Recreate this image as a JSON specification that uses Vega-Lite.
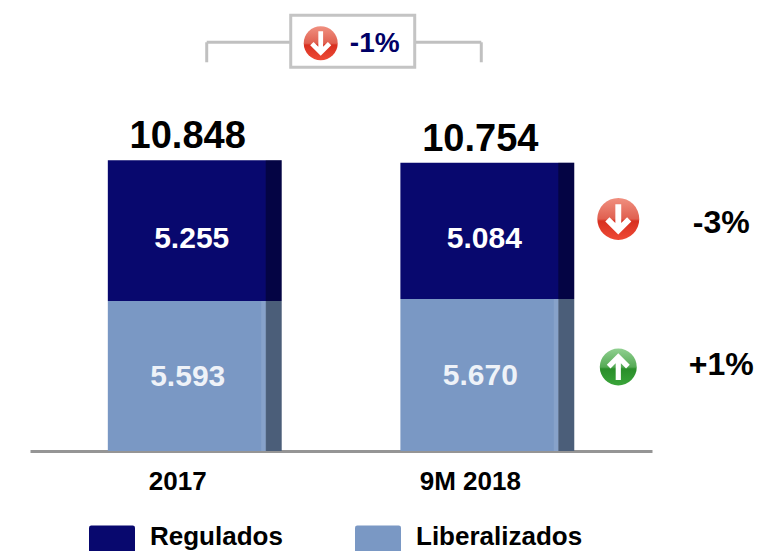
{
"$schema":"https://vega.github.io/schema/vega-lite/v6.json",
"autosize":{"type":"none"},
"padding":{"left":30,"top":0,"right":105,"bottom":101},
"width":622,"height":451,
"background":"white",
"config":{"view":{"stroke":null},"font":"Liberation Sans","text":{"font":"Liberation Sans","fontWeight":"bold"}},
"datasets":{
"main":[
{"period":"2017","series":"Regulados","value":5255},
{"period":"2017","series":"Liberalizados","value":5593},
{"period":"9M 2018","series":"Regulados","value":5084,"change":"-3%"},
{"period":"9M 2018","series":"Liberalizados","value":5670,"change":"+1%"}],
"top":[{"period":"2017","end":"9M 2018","total":10848,"change":"-1%"}]
},
"data":{"name":"main"},
"transform":[
{"stack":"value","groupby":["period"],"sort":[{"field":"series","order":"ascending"}],"as":["s0","s1"]},
{"calculate":"(datum.s0+datum.s1)/2","as":"mid"},
{"calculate":"replace(format(datum.value,','),',','.')","as":"label"}
],
"encoding":{
"x":{"field":"period","type":"nominal","title":null,
"scale":{"domain":["2017","9M 2018"],"paddingInner":0.406,"paddingOuter":0.266},
"axis":{"labelAngle":0,"ticks":false,"domainColor":"#959595","domainWidth":3,"labelFont":"Liberation Sans","labelFontWeight":"bold","labelFontSize":26,"labelColor":"#000000","labelPadding":17,"labelOffset":-17}}
},
"layer":[
{"mark":{"type":"bar"},
"encoding":{"y":{"field":"s0","type":"quantitative","title":null,"axis":null,"scale":{"domain":[0,16828],"nice":false,"zero":false}},
"y2":{"field":"s1"},
"color":{"field":"series","type":"nominal","scale":{"domain":["Regulados","Liberalizados"],"range":["#08086e","#7a98c4"]},
"legend":{"orient":"none","legendX":59,"legendY":523,"direction":"horizontal","columns":2,"title":null,"padding":0,"labelFont":"Liberation Sans","labelFontSize":26,"labelFontWeight":"bold","labelColor":"#000000","labelLimit":300,"symbolType":"M-0.9,-0.5H0.9Q1,-0.5 1,-0.4V0.7Q1,0.8 0.9,0.8H-0.9Q-1,0.8 -1,0.7V-0.4Q-1,-0.5 -0.9,-0.5Z","symbolSize":2116,"symbolStrokeWidth":0,"symbolOpacity":1,"labelOffset":15,"columnPadding":72,"clipHeight":28}}}},
{"mark":{"type":"bar","size":16,"xOffset":79,"fill":"#000000","fillOpacity":0.38},
"encoding":{"y":{"field":"s0","type":"quantitative"},"y2":{"field":"s1"}}},
{"transform":[{"filter":"datum.series==='Liberalizados'"}],
"mark":{"type":"bar","size":5,"xOffset":69,"fill":"#ffffff","fillOpacity":0.1},
"encoding":{"y":{"field":"s0","type":"quantitative"},"y2":{"field":"s1"}}},
{"transform":[{"filter":"datum.series==='Regulados'"}],
"mark":{"type":"text","fontSize":30,"fill":"#ffffff","dx":-3,"dy":8,"baseline":"middle"},
"encoding":{"y":{"field":"mid","type":"quantitative"},"text":{"field":"label"}}},
{"transform":[{"filter":"datum.series==='Liberalizados'"}],
"mark":{"type":"text","fontSize":30,"fill":"#eef2f8","dx":-7,"dy":1,"baseline":"middle"},
"encoding":{"y":{"field":"mid","type":"quantitative"},"text":{"field":"label"}}},
{"transform":[{"filter":"datum.series==='Regulados'"},{"calculate":"replace(format(datum.s1,','),',','.')","as":"totalLabel"}],
"mark":{"type":"text","fontSize":38,"fill":"#000000","dx":-7,"dy":-23,"baseline":"middle"},
"encoding":{"y":{"field":"s1","type":"quantitative"},"text":{"field":"totalLabel"}}},
{"transform":[{"filter":"datum.change==='-3%'"}],
"mark":{"type":"point","shape":"circle","filled":true,"opacity":1,"size":1764,"xOffset":131,"yOffset":-12,"fill":{"gradient":"linear","x1":0,"y1":0,"x2":0,"y2":1,"stops":[{"offset":0,"color":"#f09080"},{"offset":0.5,"color":"#e06050"},{"offset":0.55,"color":"#d83020"},{"offset":1,"color":"#ee4a36"}]}},
"encoding":{"y":{"field":"mid","type":"quantitative"}}},
{"transform":[{"filter":"datum.change==='-3%'"}],
"mark":{"type":"point","shape":"M-0.14,-0.7H0.14V0.2L0.42,-0.08L0.62,0.12L0,0.74L-0.62,0.12L-0.42,-0.08L-0.14,0.2Z","filled":true,"opacity":1,"size":1764,"xOffset":131,"yOffset":-12,"fill":"#ffffff"},
"encoding":{"y":{"field":"mid","type":"quantitative"}}},
{"transform":[{"filter":"datum.change==='+1%'"}],
"mark":{"type":"point","shape":"circle","filled":true,"opacity":1,"size":1369,"xOffset":131,"yOffset":-8,"fill":{"gradient":"linear","x1":0,"y1":0,"x2":0,"y2":1,"stops":[{"offset":0,"color":"#90d090"},{"offset":0.5,"color":"#55aa55"},{"offset":0.55,"color":"#2a8e2a"},{"offset":1,"color":"#3aa53a"}]}},
"encoding":{"y":{"field":"mid","type":"quantitative"}}},
{"transform":[{"filter":"datum.change==='+1%'"}],
"mark":{"type":"point","shape":"M-0.14,0.7H0.14V-0.2L0.42,0.08L0.62,-0.12L0,-0.74L-0.62,-0.12L-0.42,0.08L-0.14,-0.2Z","filled":true,"opacity":1,"size":1369,"xOffset":131,"yOffset":-8,"fill":"#ffffff"},
"encoding":{"y":{"field":"mid","type":"quantitative"}}},
{"transform":[{"filter":"datum.change==='-3%'"}],
"mark":{"type":"text","fontSize":32,"fill":"#000000","dx":234,"dy":-8,"baseline":"middle"},
"encoding":{"y":{"field":"mid","type":"quantitative"},"text":{"field":"change"}}},
{"transform":[{"filter":"datum.change==='+1%'"}],
"mark":{"type":"text","fontSize":32,"fill":"#000000","dx":234,"dy":-10,"baseline":"middle"},
"encoding":{"y":{"field":"mid","type":"quantitative"},"text":{"field":"change"}}},
{"data":{"name":"top"},"transform":[],
"mark":{"type":"rule","stroke":"#c0c0c0","strokeWidth":3,"xOffset":12,"x2Offset":-6,"yOffset":-118},
"encoding":{"x":{"field":"period","type":"nominal"},"x2":{"field":"end"},"y":{"field":"total","type":"quantitative"}}},
{"data":{"name":"top"},"transform":[],
"mark":{"type":"rule","stroke":"#c0c0c0","strokeWidth":3,"xOffset":12,"x2Offset":12,"yOffset":-118,"y2Offset":-98},
"encoding":{"x":{"field":"period","type":"nominal"},"y":{"field":"total","type":"quantitative"},"y2":{"field":"total"}}},
{"data":{"name":"top"},"transform":[],
"mark":{"type":"rule","stroke":"#c0c0c0","strokeWidth":3,"xOffset":-6,"yOffset":-118,"y2Offset":-98},
"encoding":{"x":{"field":"end","type":"nominal"},"y":{"field":"total","type":"quantitative"},"y2":{"field":"total"}}},
{"data":{"name":"top"},"transform":[],
"mark":{"type":"point","shape":"M-1,-0.419H1V0.419H-1Z","size":15376,"filled":false,"fill":"#ffffff","fillOpacity":1,"opacity":1,"stroke":"#c4c4c4","strokeWidth":3,"xOffset":158,"yOffset":-119},
"encoding":{"y":{"field":"total","type":"quantitative"}}},
{"data":{"name":"top"},"transform":[],
"mark":{"type":"point","shape":"circle","filled":true,"opacity":1,"size":1156,"xOffset":126,"yOffset":-117,"fill":{"gradient":"linear","x1":0,"y1":0,"x2":0,"y2":1,"stops":[{"offset":0,"color":"#f09080"},{"offset":0.5,"color":"#e06050"},{"offset":0.55,"color":"#d83020"},{"offset":1,"color":"#ee4a36"}]}},
"encoding":{"y":{"field":"total","type":"quantitative"}}},
{"data":{"name":"top"},"transform":[],
"mark":{"type":"point","shape":"M-0.14,-0.7H0.14V0.2L0.42,-0.08L0.62,0.12L0,0.74L-0.62,0.12L-0.42,-0.08L-0.14,0.2Z","filled":true,"opacity":1,"size":1156,"xOffset":126,"yOffset":-117,"fill":"#ffffff"},
"encoding":{"y":{"field":"total","type":"quantitative"}}},
{"data":{"name":"top"},"transform":[],
"mark":{"type":"text","fontSize":28,"fill":"#000066","dx":180,"dy":-116,"baseline":"middle"},
"encoding":{"y":{"field":"total","type":"quantitative"},"text":{"field":"change"}}}
]
}
